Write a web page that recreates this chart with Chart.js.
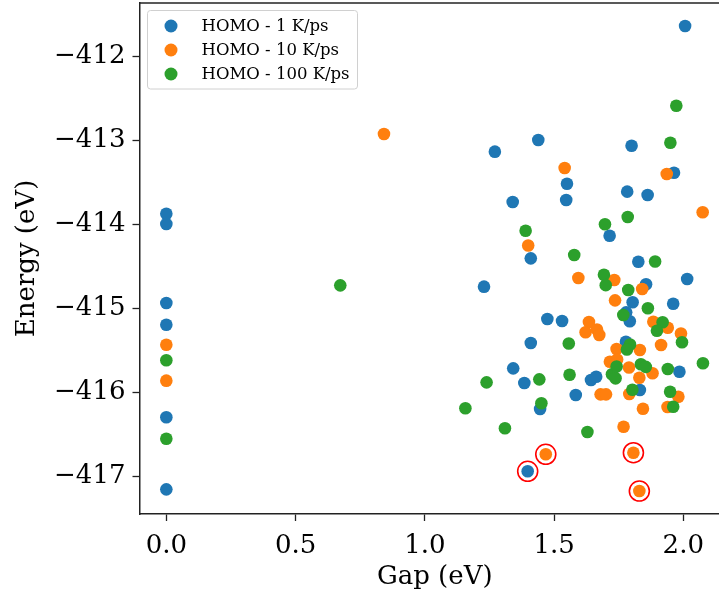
<!DOCTYPE html>
<html>
<head>
<meta charset="utf-8">
<script src="https://cdn.jsdelivr.net/npm/chart.js@4.4.1/dist/chart.umd.min.js"></script>
<style>
  html, body { margin: 0; padding: 0; background: #fff; overflow: hidden; }
  #wrap { width: 719px; height: 593px; overflow: hidden; }
  canvas { display: block; }
</style>
</head>
<body>
<div id="wrap"><canvas id="myChart" width="730" height="593"></canvas></div>
<script>
// HOMO - 1 K/ps
const gap1 = [0, 0, 0, 0, 0, 0,
  2.007, 1.271, 1.439, 1.550, 1.547, 1.340, 1.800, 1.964, 1.783, 1.862,
  1.715, 1.410, 1.826, 1.229, 1.856, 2.015, 1.804, 1.961, 1.779, 1.793,
  1.474, 1.531, 1.410, 1.778, 1.342, 1.385, 1.643, 1.663, 1.985, 1.446,
  1.584, 1.832, 1.398]
const energy1 = [-413.872, -413.995, -414.937, -415.196, -416.300, -417.159,
  -411.633, -413.132, -412.993, -413.514, -413.708, -413.732, -413.061, -413.383, -413.609, -413.649,
  -414.134, -414.404, -414.444, -414.742, -414.714, -414.651, -414.928, -414.945, -415.048, -415.155,
  -415.128, -415.151, -415.414, -415.398, -415.716, -415.891, -415.855, -415.816, -415.756, -416.201,
  -416.034, -415.974, -416.944]

// HOMO - 10 K/ps
const gap10 = [0, 0,
  0.842, 1.541, 1.936, 2.075, 1.400, 1.594, 1.733, 1.841, 1.736, 1.884,
  1.940, 1.991, 1.914, 1.635, 1.622, 1.666, 1.675, 1.742, 1.832, 1.716,
  1.744, 1.790, 1.830, 1.881, 1.680, 1.701, 1.791, 1.844, 1.981, 1.939,
  1.769, 1.468, 1.807, 1.830]
const energy10 = [-415.434, -415.863,
  -412.921, -413.327, -413.398, -413.855, -414.251, -414.639, -414.662, -414.770, -414.905, -415.160,
  -415.231, -415.301, -415.438, -415.163, -415.286, -415.253, -415.318, -415.485, -415.497, -415.637,
  -415.611, -415.706, -415.828, -415.775, -416.026, -416.026, -416.022, -416.197, -416.054, -416.177,
  -416.412, -416.741, -416.722, -417.179]

// HOMO - 100 K/ps
const gap100 = [0, 0,
  1.973, 1.950, 1.785, 1.697, 1.390, 1.578, 1.891, 1.693, 1.700, 1.787,
  0.673, 1.863, 1.768, 1.920, 1.898, 1.995, 1.557, 1.794, 1.782, 1.239,
  1.443, 1.560, 1.724, 1.738, 1.742, 1.836, 1.855, 1.940, 2.076, 1.157,
  1.451, 1.803, 1.949, 1.961, 1.310, 1.629]
const energy100 = [-415.620, -416.555,
  -412.584, -413.025, -413.911, -413.998, -414.075, -414.364, -414.442, -414.600, -414.724, -414.782,
  -414.726, -415.000, -415.080, -415.167, -415.267, -415.405, -415.420, -415.432, -415.491, -415.883,
  -415.847, -415.792, -415.786, -415.835, -415.694, -415.668, -415.698, -415.724, -415.656, -416.191,
  -416.133, -415.971, -415.995, -416.174, -416.431, -416.475]

// circled points
const gapMarked = [1.398, 1.468, 1.807, 1.830]
const energyMarked = [-416.944, -416.741, -416.722, -417.179]

const xTicks = [0, 0.5, 1.0, 1.5, 2.0]
const yTicks = [-417, -416, -415, -414, -413, -412]

const seriesLabels = ["HOMO - 1 K/ps", "HOMO - 10 K/ps", "HOMO - 100 K/ps"]
const seriesColors = ["#1f77b4", "#ff7f0e", "#2ca02c"]

const toPoints = (xs, ys) => xs.map((x, i) => ({ x: x, y: ys[i] }))

const serif = "'DejaVu Serif', serif"

// top spine + legend box
const frameAndLegend = {
  id: "frameAndLegend",
  afterDraw(chart) {
    const ctx = chart.ctx
    const area = chart.chartArea
    ctx.save()
    ctx.strokeStyle = "#222"
    ctx.lineWidth = 1.5
    ctx.beginPath()
    ctx.moveTo(area.left, area.top)
    ctx.lineTo(area.right, area.top)
    ctx.stroke()

    const bx = area.left + 8, by = area.top + 7.5, bw = 210, bh = 78.5
    ctx.fillStyle = "rgba(255,255,255,0.8)"
    ctx.strokeStyle = "#d0d0d0"
    ctx.lineWidth = 1
    ctx.beginPath()
    ctx.roundRect(bx, by, bw, bh, 3)
    ctx.fill()
    ctx.stroke()

    ctx.font = "16.5px " + serif
    ctx.textBaseline = "middle"
    ctx.textAlign = "left"
    seriesLabels.forEach((label, i) => {
      const y = by + 15.5 + i * 24
      ctx.fillStyle = seriesColors[i]
      ctx.beginPath()
      ctx.arc(bx + 23.5, y, 6.5, 0, Math.PI * 2)
      ctx.fill()
      ctx.fillStyle = "#000"
      ctx.fillText(label, bx + 54, y + 1)
    })
    ctx.restore()
  },
}

const ctx = document.getElementById("myChart")

new Chart(ctx, {
  type: "scatter",
  data: {
    datasets: [
      {
        label: seriesLabels[0],
        data: toPoints(gap1, energy1),
        backgroundColor: seriesColors[0],
        borderWidth: 0,
        pointRadius: 6.3,
        order: 3,
      },
      {
        label: seriesLabels[1],
        data: toPoints(gap10, energy10),
        backgroundColor: seriesColors[1],
        borderWidth: 0,
        pointRadius: 6.3,
        order: 2,
      },
      {
        label: seriesLabels[2],
        data: toPoints(gap100, energy100),
        backgroundColor: seriesColors[2],
        borderWidth: 0,
        pointRadius: 6.3,
        order: 1,
      },
      {
        label: "marked",
        data: toPoints(gapMarked, energyMarked),
        backgroundColor: "rgba(0,0,0,0)",
        borderColor: "#ff0000",
        borderWidth: 1.6,
        pointRadius: 10,
        order: 0,
      },
    ],
  },
  options: {
    responsive: false,
    animation: false,
    devicePixelRatio: 1,
    layout: { autoPadding: false, padding: { top: 3, left: 0, right: 0, bottom: 0 } },
    plugins: {
      legend: { display: false },
      tooltip: { enabled: false },
    },
    scales: {
      x: {
        type: "linear",
        min: -0.1038,
        max: 2.1807,
        afterBuildTicks: (scale) => { scale.ticks = xTicks.map((v) => ({ value: v })) },
        afterFit: (scale) => {
          scale.height = 79
          scale.paddingLeft = 0
          scale.paddingRight = 0
        },
        grid: { drawOnChartArea: false, drawTicks: true, tickLength: 7, tickWidth: 1.3, tickColor: "#222" },
        border: { display: true, color: "#222", width: 1.5 },
        ticks: {
          color: "#000",
          padding: 10,
          font: { family: serif, size: 26 },
          callback: (v) => v.toFixed(1),
        },
        title: {
          display: true,
          text: "Gap (eV)",
          color: "#000",
          font: { family: serif, size: 26 },
          padding: { top: 0, bottom: 0 },
        },
      },
      y: {
        type: "linear",
        min: -417.453,
        max: -411.359,
        afterBuildTicks: (scale) => { scale.ticks = yTicks.map((v) => ({ value: v })) },
        afterFit: (scale) => {
          scale.width = 139.5
          scale.paddingTop = 0
          scale.paddingBottom = 0
        },
        grid: { drawOnChartArea: false, drawTicks: true, tickLength: 7, tickWidth: 1.3, tickColor: "#222" },
        border: { display: true, color: "#222", width: 1.5 },
        ticks: {
          color: "#000",
          padding: 7,
          font: { family: serif, size: 26 },
          callback: (v) => "\u2212" + Math.abs(v),
        },
        title: {
          display: true,
          text: "Energy (eV)",
          color: "#000",
          font: { family: serif, size: 26 },
          padding: { top: 12, bottom: 0 },
        },
      },
    },
  },
  plugins: [frameAndLegend],
})
</script>
</body>
</html>
